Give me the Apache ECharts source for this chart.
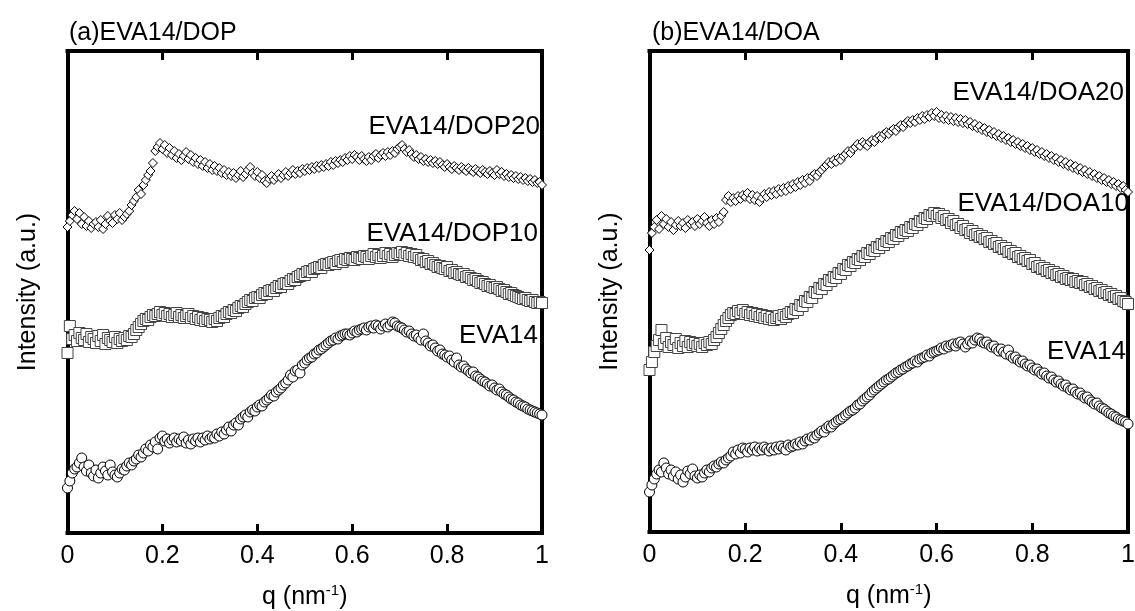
<!DOCTYPE html>
<html>
<head>
<meta charset="utf-8">
<script src="https://cdn.jsdelivr.net/npm/echarts@6/dist/echarts.min.js"></script>
<style>
html,body{margin:0;padding:0;background:#fff;}
#chart{width:1135px;height:611px;}
</style>
</head>
<body>
<div id="chart"></div>
<script>
// q grid (nm^-1)
var Q = [
0,0.005,0.01,0.015,0.02,0.025,0.03,0.035,0.04,0.045,
0.05,0.055,0.06,0.065,0.07,0.075,0.08,0.085,0.09,0.095,
0.1,0.105,0.11,0.115,0.12,0.125,0.13,0.135,0.14,0.145,
0.15,0.155,0.16,0.165,0.17,0.175,0.18,0.185,0.19,0.195,
0.2,0.205,0.21,0.215,0.22,0.225,0.23,0.235,0.24,0.245,
0.25,0.255,0.26,0.265,0.27,0.275,0.28,0.285,0.29,0.295,
0.3,0.305,0.31,0.315,0.32,0.325,0.33,0.335,0.34,0.345,
0.35,0.355,0.36,0.365,0.37,0.375,0.38,0.385,0.39,0.395,
0.4,0.405,0.41,0.415,0.42,0.425,0.43,0.435,0.44,0.445,
0.45,0.455,0.46,0.465,0.47,0.475,0.48,0.485,0.49,0.495,
0.5,0.505,0.51,0.515,0.52,0.525,0.53,0.535,0.54,0.545,
0.55,0.555,0.56,0.565,0.57,0.575,0.58,0.585,0.59,0.595,
0.6,0.605,0.61,0.615,0.62,0.625,0.63,0.635,0.64,0.645,
0.65,0.655,0.66,0.665,0.67,0.675,0.68,0.685,0.69,0.695,
0.7,0.705,0.71,0.715,0.72,0.725,0.73,0.735,0.74,0.745,
0.75,0.755,0.76,0.765,0.77,0.775,0.78,0.785,0.79,0.795,
0.8,0.805,0.81,0.815,0.82,0.825,0.83,0.835,0.84,0.845,
0.85,0.855,0.86,0.865,0.87,0.875,0.88,0.885,0.89,0.895,
0.9,0.905,0.91,0.915,0.92,0.925,0.93,0.935,0.94,0.945,
0.95,0.955,0.96,0.965,0.97,0.975,0.98,0.985,0.99,0.995,
1
];

// (a) EVA14/DOP panel — intensities (a.u., stacked offsets)
var A_EVA14 = [
45,52,60,64,66,70,75,66,62,68,
60,57,63,55,60,66,62,58,68,61,
58,56,60,64,63,67,70,68,72,74,
78,76,80,84,82,88,86,91,84,95,
97,92,94,90,93,95,91,94,92,96,
90,93,89,94,92,95,91,95,93,97,
94,96,95,99,97,101,99,103,106,102,
108,110,108,114,116,118,116,121,123,122,
126,128,127,131,133,135,138,137,141,143,
145,148,150,153,158,156,162,163,160,168,
170,173,175,176,179,180,183,184,186,188,
190,192,193,195,194,197,198,199,199,198,
200,202,201,203,204,205,203,206,207,205,
208,207,204,207,209,206,208,211,210,207,
206,205,203,201,202,199,197,198,195,193,
199,192,190,187,188,185,182,183,179,178,
176,177,173,171,175,168,166,167,164,162,
160,161,157,156,154,152,151,149,147,148,
145,143,144,141,139,138,136,134,133,131,
130,128,127,126,124,123,122,121,120,119,
118
];
var A_DOP10 = [
180,207,194,198,192,200,195,193,199,191,
196,194,190,197,192,198,189,195,193,191,
196,190,194,192,195,193,197,196,199,203,
206,209,212,214,213,216,218,217,219,221,
218,220,217,219,216,218,220,216,218,215,
217,219,215,217,214,216,213,215,212,214,
213,211,214,212,215,217,216,219,221,220,
223,222,225,227,226,229,231,233,232,235,
236,235,238,240,239,242,243,242,245,247,
246,249,250,249,252,254,253,256,257,259,
258,261,262,261,264,265,266,265,268,269,
268,270,271,269,272,273,271,274,273,275,
274,273,276,275,274,277,276,274,277,279,
276,278,275,277,280,277,279,276,278,280,
279,281,278,280,277,279,276,278,275,273,
274,271,272,269,270,268,266,267,265,264,
266,262,263,260,261,259,258,259,256,257,
255,253,254,252,250,251,249,247,248,246,
245,246,244,242,243,241,239,240,238,237,
236,235,234,235,233,232,233,231,230,231,
230
];
var A_DOP20 = [
306,312,318,322,314,320,309,316,307,312,
305,309,311,306,313,304,309,317,312,310,
318,314,320,313,316,319,322,328,332,336,
343,339,348,353,358,362,370,382,386,390,
384,388,380,385,378,382,375,379,373,377,
381,374,378,371,375,369,373,367,371,365,
369,363,367,362,365,360,363,358,361,357,
360,355,358,362,356,359,363,366,360,357,
361,355,358,352,350,354,357,353,356,359,
355,358,361,357,360,363,359,362,360,364,
362,365,363,366,364,367,365,368,366,369,
367,371,368,372,370,373,371,375,373,377,
374,378,376,373,377,374,372,376,373,377,
379,375,378,380,377,381,378,382,380,384,
386,388,384,381,383,379,376,378,374,376,
372,374,371,373,370,372,369,371,368,366,
369,366,364,367,365,363,366,364,362,365,
363,361,364,362,360,363,361,359,362,360,
358,363,359,361,357,359,356,358,355,357,
354,356,353,355,352,354,351,353,350,351,
348
];

// (b) EVA14/DOA panel
var B_EVA14 = [
40,47,53,58,62,60,69,64,58,62,
56,60,53,57,50,55,61,58,63,56,
54,57,55,59,62,60,64,66,65,68,
70,69,72,74,76,80,78,82,79,84,
83,80,84,82,85,81,84,82,85,83,
81,84,82,85,83,86,84,82,87,85,
86,88,87,90,88,91,93,92,95,94,
97,99,101,100,104,106,105,108,110,112,
113,115,117,119,121,122,124,127,128,131,
133,135,137,140,142,144,146,148,150,152,
153,155,157,159,160,162,163,165,166,168,
169,171,170,173,174,175,177,176,179,180,
181,182,184,183,186,185,187,188,186,189,
190,188,185,188,191,189,192,194,193,190,
189,190,187,185,186,183,181,183,180,178,
182,176,174,175,172,170,171,168,166,167,
164,162,163,160,158,159,156,154,155,152,
150,151,148,146,147,144,142,143,140,138,
139,136,134,135,132,130,128,129,126,124,
123,121,119,118,116,115,113,112,111,110,
108
];
var B_DOA10 = [
162,170,180,186,192,202,188,194,185,190,
187,193,184,189,186,191,185,190,187,189,
186,188,185,189,187,190,188,192,195,199,
203,207,211,214,217,219,218,221,219,222,
218,220,217,219,216,218,215,217,214,216,
213,215,212,214,216,213,217,215,218,220,
219,223,222,227,226,231,230,235,234,240,
239,244,243,248,247,252,251,255,254,259,
258,263,262,267,266,270,269,273,272,276,
275,279,278,282,281,285,284,288,287,291,
290,294,293,297,296,300,299,302,301,305,
304,308,307,311,310,314,313,317,316,319,
316,318,314,316,312,313,309,311,307,308,
304,306,302,303,299,301,297,298,295,296,
293,294,290,291,288,289,285,286,283,284,
280,281,278,279,275,276,273,274,271,272,
268,269,265,266,263,264,261,262,259,260,
257,258,255,256,253,254,252,253,250,251,
249,250,247,248,245,246,243,244,241,242,
239,240,237,238,235,236,233,234,231,230,
228
];
var B_DOA20 = [
282,299,305,312,303,316,308,313,305,310,
302,307,311,306,309,304,312,308,310,306,
313,308,311,315,309,306,312,308,314,310,
316,320,332,336,330,334,331,336,333,337,
335,339,333,337,332,336,330,334,338,335,
340,337,341,338,343,340,344,341,346,343,
348,345,350,347,352,349,354,351,356,358,
356,360,362,365,367,370,368,372,370,374,
372,376,378,381,379,383,385,388,386,390,
388,386,390,392,390,394,396,394,398,400,
398,401,403,401,405,407,405,409,411,409,
412,410,414,412,416,413,417,415,419,416,
420,414,417,413,416,412,415,411,414,410,
413,409,412,408,410,406,408,404,406,402,
404,400,402,398,400,396,398,394,396,392,
394,390,392,388,390,386,388,384,386,382,
384,380,382,378,380,376,378,374,376,372,
374,370,372,368,370,366,368,364,366,362,
364,360,362,358,360,356,358,354,356,352,
354,350,352,348,350,346,348,344,346,342,
340
];

var PANEL_TITLES = ['(a)EVA14/DOP', '(b)EVA14/DOA'];
var LABELS_A = ['EVA14/DOP20', 'EVA14/DOP10', 'EVA14'];
var LABELS_B = ['EVA14/DOA20', 'EVA14/DOA10', 'EVA14'];
var X_NAME = 'q (nm{sup|-1})';
var Y_NAME = 'Intensity (a.u.)';

function pairs(vals) {
  var out = [];
  for (var i = 0; i < vals.length; i++) out.push([Q[i], vals[i]]);
  return out;
}

var FONT = 'Liberation Sans, Arial, Helvetica, sans-serif';
var chart = echarts.init(document.getElementById('chart'), null, {renderer: 'canvas'});

function xAxes(grid) {
  var line = {show: true, onZero: false, lineStyle: {color: '#000', width: 4, cap: 'square'}};
  var tick = {show: true, inside: true, length: 9, lineStyle: {color: '#000', width: 3}};
  return [
    {gridIndex: grid, type: 'value', min: 0, max: 1, interval: 0.2, position: 'bottom',
     axisLine: line, axisTick: tick, splitLine: {show: false},
     axisLabel: {color: '#000', fontSize: 25, fontFamily: FONT, margin: 11},
     name: X_NAME, nameLocation: 'middle', nameGap: 50,
     nameTextStyle: {color: '#000', fontSize: 25, fontFamily: FONT, lineHeight: 28,
       rich: {sup: {fontSize: 15, fontFamily: FONT, color: '#000', verticalAlign: 'top', lineHeight: 28, padding: [0, 0, 14, 0]}}}},
    {gridIndex: grid, type: 'value', min: 0, max: 1, interval: 0.2, position: 'top',
     axisLine: line, axisTick: tick, splitLine: {show: false}, axisLabel: {show: false}}
  ];
}
function yAxes(grid, maxV, gap) {
  var line = {show: true, onZero: false, lineStyle: {color: '#000', width: 4, cap: 'square'}};
  return [
    {gridIndex: grid, type: 'value', min: 0, max: maxV, position: 'left',
     axisLine: line, axisTick: {show: false}, axisLabel: {show: false}, splitLine: {show: false},
     name: Y_NAME, nameLocation: 'middle', nameRotate: 90, nameGap: gap,
     nameTextStyle: {color: '#000', fontSize: 25, fontFamily: FONT}},
    {gridIndex: grid, type: 'value', min: 0, max: maxV, position: 'right',
     axisLine: line, axisTick: {show: false}, axisLabel: {show: false}, splitLine: {show: false}}
  ];
}

function sc(xi, yi, vals, symbol, size, border) {
  return {type: 'scatter', xAxisIndex: xi, yAxisIndex: yi, data: pairs(vals),
    symbol: symbol, symbolSize: size, clip: false,
    itemStyle: {color: '#fff', borderColor: border, borderWidth: 1, opacity: 1},
    emphasis: {disabled: true}};
}

function seriesLabel(text, rightPx, midY) {
  return {type: 'text', right: rightPx, top: midY - 14, z: 100,
    style: {text: text, fill: '#000', font: '26px ' + FONT, textAlign: 'right'}};
}

var option = {
  backgroundColor: '#fff',
  animation: false,
  title: [
    {text: PANEL_TITLES[0], left: 64, top: 16, textStyle: {color: '#000', fontSize: 25, fontWeight: 'normal', fontFamily: FONT}},
    {text: PANEL_TITLES[1], left: 647, top: 16, textStyle: {color: '#000', fontSize: 25, fontWeight: 'normal', fontFamily: FONT}}
  ],
  grid: [
    {left: 67.5, right: 593, top: 51, bottom: 78, containLabel: false, outerBoundsMode: 'none'},
    {left: 649.5, right: 7, top: 51, bottom: 79, containLabel: false, outerBoundsMode: 'none'}
  ],
  xAxis: xAxes(0).concat(xAxes(1)),
  yAxis: yAxes(0, 482, 27).concat(yAxes(1, 481, 27)),
  series: [
    sc(0, 0, A_EVA14, 'circle', 10, '#000'),
    sc(0, 0, A_DOP10, 'rect', 11, '#444'),
    sc(0, 0, A_DOP20, 'diamond', 9, '#000'),
    sc(2, 2, B_EVA14, 'circle', 10, '#000'),
    sc(2, 2, B_DOA10, 'rect', 11, '#444'),
    sc(2, 2, B_DOA20, 'diamond', 9, '#000')
  ],
  graphic: [
    seriesLabel(LABELS_A[0], 1135 - 540, 128),
    seriesLabel(LABELS_A[1], 1135 - 538, 235),
    seriesLabel(LABELS_A[2], 1135 - 538, 337),
    seriesLabel(LABELS_B[0], 1135 - 1124, 94),
    seriesLabel(LABELS_B[1], 1135 - 1129, 205),
    seriesLabel(LABELS_B[2], 1135 - 1126, 353)
  ]
};
chart.setOption(option);
</script>
</body>
</html>
